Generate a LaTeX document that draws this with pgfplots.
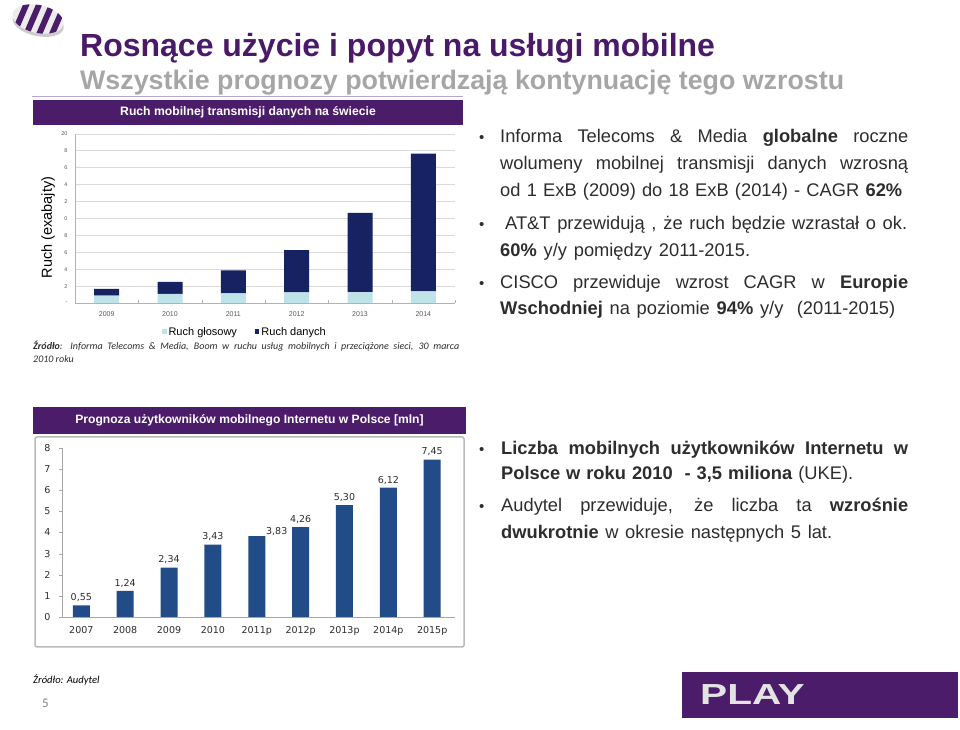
\documentclass[border=0pt]{standalone}
\usepackage{fontspec}
\setmainfont{Liberation Sans}
\newfontfamily\dejavu{DejaVu Sans}
\newfontfamily\carlito{Carlito}
\usepackage{pgfplots}
\usepackage{pgfplotstable}
\pgfplotsset{compat=1.18}

\definecolor{playpurple}{RGB}{75,28,106}
\definecolor{titlepurple}{RGB}{74,26,104}
\definecolor{subgray}{RGB}{166,166,166}
\definecolor{bodytext}{RGB}{45,45,45}
\definecolor{navybar}{RGB}{22,34,98}
\definecolor{voicebar}{RGB}{190,228,234}
\definecolor{steelbar}{RGB}{33,76,135}
\definecolor{gridgray}{RGB}{217,217,217}
\definecolor{ticktext}{RGB}{89,89,89}
\definecolor{lilac}{RGB}{185,166,207}

\newcommand{\fs}[1]{\fontsize{#1bp}{#1bp}\selectfont}
\newcommand{\jline}[2]{\makebox[#1bp][s]{#2}}

% world mobile traffic, exabytes
\pgfplotstableread{
x voice data
0 0.87 0.79
1 1.07 1.42
2 1.14 2.73
3 1.26 5.01
4 1.30 9.35
5 1.38 16.29
}\traffictable

% mobile internet users in Poland, mln
\pgfplotstableread{
x y
0 0.55
1 1.24
2 2.34
3 3.43
4 3.83
5 4.26
6 5.30
7 6.12
8 7.45
}\userstable

\begin{document}
\begin{tikzpicture}[x=1bp,y=1bp,
  body/.style={anchor=base west, inner sep=0pt, font=\fs{18.3}, text=bodytext},
  bullet/.style={anchor=base west, inner sep=0pt, font=\fs{15}, text=bodytext}]
\path[fill=white, use as bounding box] (0,0) rectangle (960,730);

% logo
\begin{scope}[rotate around={-12:(38,711)}]
  \fill[gray!40] (39,707) ellipse (26 and 13);
  \clip (38,711) ellipse (26 and 14);
  \fill[white!85!gray] (10,690) rectangle (66,730);
  \foreach \s in {0,12,24,36}
    \fill[playpurple] (14+\s,690) -- (20+\s,690) -- (28+\s,730) -- (22+\s,730) -- cycle;
\end{scope}

% titles
\node[anchor=base west, inner sep=0pt, font=\bfseries\fs{32}, text=titlepurple] at (80,673)
  {Rosnące użycie i popyt na usługi mobilne};
\node[anchor=base west, inner sep=0pt, font=\bfseries\fs{26.8}, text=subgray] at (80,640)
  {Wszystkie prognozy potwierdzają kontynuację tego wzrostu};
\draw[lilac, line width=1bp] (32,633) -- (463,633);

% top chart
\fill[playpurple] (33,605) rectangle (463,630);
\node[font=\bfseries\fs{12.2}, text=white] at (248,617.5) {Ruch mobilnej transmisji danych na świecie};

\begin{axis}[
  at={(75bp,427bp)}, anchor=south west, scale only axis,
  width=380bp, height=169bp,
  xmin=-0.5, xmax=5.5, ymin=0, ymax=20,
  ybar stacked, bar width=25bp,
  xtick={0,...,5}, xticklabels={2009,2010,2011,2012,2013,2014},
  minor xtick={-0.5,0.5,...,5.5},
  ytick={0,2,...,20}, yticklabels={-,2,4,6,8,0,2,4,6,8,20},
  ymajorgrids, grid style={gridgray, line width=0.8bp},
  axis x line*=bottom, axis y line*=left,
  axis line style={gray!60}, tick style={gray!60},
  major tick length=0pt, minor tick length=2.5bp,
  xticklabel style={font=\fs{7}, text=ticktext, yshift=-5bp},
  yticklabel style={font=\fs{5.5}, text=ticktext, xshift=-4bp},
  /pgf/number format/assume math mode=true,
  ylabel={Ruch (exabajty)},
  every axis y label/.style={at={(axis description cs:-0.071,0.447)}, rotate=90, anchor=center, font=\fs{14.5}, text=black},
  legend style={at={(0.447,-0.172)}, anchor=center, draw=none, fill=none,
    legend columns=2, font=\fs{11}, text=black,
    /tikz/every even column/.append style={column sep=16bp}},
  legend image code/.code={\fill[#1] (0bp,-1.5bp) rectangle (4.5bp,3bp);},
]
\addplot[fill=voicebar, draw=none] table[x=x, y=voice] {\traffictable};
\addplot[fill=navybar, draw=none] table[x=x, y=data] {\traffictable};
\legend{Ruch głosowy, Ruch danych}
\end{axis}

\node[anchor=base west, inner sep=0pt, font=\carlito\itshape\fs{10}, text=bodytext] at (33,380)
  {\jline{426}{\textbf{Źródło}: Informa Telecoms \& Media, Boom w ruchu usług mobilnych i przeciążone sieci, 30 marca}};
\node[anchor=base west, inner sep=0pt, font=\carlito\itshape\fs{10}, text=bodytext] at (33,367) {2010 roku};

% bottom chart
\fill[playpurple] (33,296) rectangle (466,323);
\node[font=\bfseries\fs{12.1}, text=white] at (249.5,309.5) {Prognoza użytkowników mobilnego Internetu w Polsce [mln]};
\draw[gray!55, line width=1.5bp, rounded corners=2bp] (35,83) rectangle (464,293);

\begin{axis}[
  at={(62bp,113bp)}, anchor=south west, scale only axis,
  width=393bp, height=169bp,
  xmin=-0.44, xmax=8.52, ymin=0, ymax=8,
  ybar, bar width=17bp,
  xtick={0,...,8}, xticklabels={2007,2008,2009,2010,2011p,2012p,2013p,2014p,2015p},
  minor xtick={-0.5,0.5,...,8.5},
  ytick={0,...,8},
  axis x line*=bottom, axis y line*=left,
  axis line style={gray!70}, tick style={gray!70},
  major tick length=3bp, minor tick length=3bp,
  xtick style={draw=none}, minor x tick style={gray!70},
  tick align=outside,
  xticklabel style={font=\dejavu\fs{9.5}, text=bodytext, yshift=-3bp},
  yticklabel style={font=\dejavu\fs{9.5}, text=bodytext, xshift=-5bp},
  /pgf/number format/assume math mode=true,
]
\addplot[fill=steelbar, draw=none,
  nodes near coords={\pgfmathprintnumber[fixed, fixed zerofill, precision=2, use comma]{\pgfplotspointmeta}},
  every node near coord/.append style={font=\dejavu\fs{9.5}, text=bodytext},
  coordinate style/.condition={x==4}{xshift=20bp, yshift=-3bp},
] table[x=x, y=y] {\userstable};
\end{axis}

% right-hand text
\node[bullet] at (479,587) {•};
\node[body] at (500,587) {\jline{408}{Informa Telecoms \& Media \textbf{globalne} roczne}};
\node[body] at (500,560) {\jline{408}{wolumeny mobilnej transmisji danych wzrosną}};
\node[body] at (500,533.3) {\jline{402}{od 1 ExB (2009) do 18 ExB (2014) - CAGR \textbf{62\%}}};
\node[bullet] at (479,500) {•};
\node[body] at (505,500) {\jline{402}{AT\&T przewidują , że ruch będzie wzrastał o ok.}};
\node[body] at (500,473.3) {\jline{250}{\textbf{60\%} y/y pomiędzy 2011-2015.}};
\node[bullet] at (479,441.7) {•};
\node[body] at (500,441.7) {\jline{408}{CISCO przewiduje wzrost CAGR w \textbf{Europie}}};
\node[body] at (500,415) {\jline{395}{\textbf{Wschodniej} na poziomie \textbf{94\%} y/y~~(2011-2015)}};

\node[bullet] at (479,275.7) {•};
\node[body] at (501,275.7) {\jline{407}{\textbf{Liczba mobilnych użytkowników Internetu w}}};
\node[body] at (501,250) {\jline{352}{\textbf{Polsce w roku 2010~~- 3,5 miliona} (UKE).}};
\node[bullet] at (479,218.3) {•};
\node[body] at (501,218.3) {\jline{407}{Audytel przewiduje, że liczba ta \textbf{wzrośnie}}};
\node[body] at (501,191.7) {\jline{331}{\textbf{dwukrotnie} w okresie następnych 5 lat.}};

% footer
\node[anchor=base west, inner sep=0pt, font=\carlito\itshape\fs{10.6}, text=black] at (33,46) {Źródło: Audytel};
\node[anchor=base west, inner sep=0pt, font=\carlito\fs{13}, text=gray] at (42,22) {5};
\fill[playpurple] (682,12) rectangle (958,58);
\node[anchor=base west, inner sep=0pt, font=\bfseries\fs{29}, text=white!78!gray] at (700,25)
  {\scalebox{1.4}[1]{PLAY}};
\end{tikzpicture}
\end{document}
